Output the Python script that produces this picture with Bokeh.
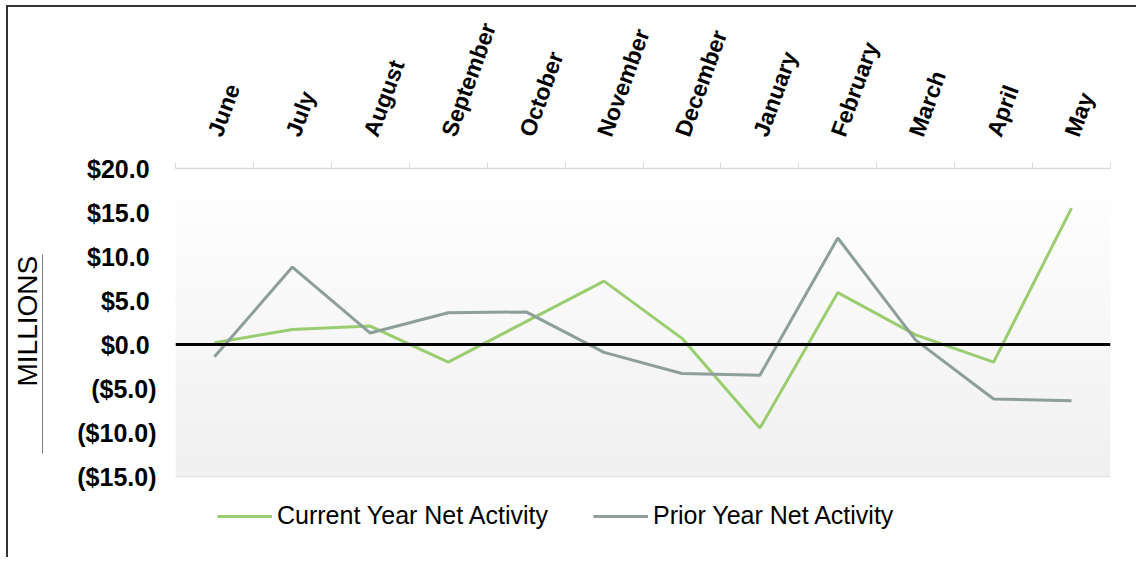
import numpy as np
from bokeh.plotting import figure
from bokeh.models import (FixedTicker, LinearAxis, Span, Legend, LegendItem, Range1d, Title)
from bokeh.embed import file_html
from bokeh.resources import INLINE

months = ["June", "July", "August", "September", "October", "November",
          "December", "January", "February", "March", "April", "May"]
current_year = [0.2, 1.7, 2.1, -2.0, 2.6, 7.2, 0.7, -9.5, 5.9, 1.1, -2.0, 15.5]
prior_year = [-1.4, 8.8, 1.3, 3.6, 3.7, -0.9, -3.3, -3.5, 12.1, 0.5, -6.2, -6.4]
y_ticks = [-15, -10, -5, 0, 5, 10, 15, 20]
y_tick_labels = ["($15.0)", "($10.0)", "($5.0)", "$0.0\u00a0", "$5.0\u00a0",
                 "$10.0\u00a0", "$15.0\u00a0", "$20.0\u00a0"]

GREEN = "#9ACD6F"
GRAY = "#8E9E9B"
GRID = "#D9D9D9"

n = len(months)
xs = list(range(n))
ymin, ymax = y_ticks[0], y_ticks[-1]

# layout: value area is 308px tall; frame extends below it to hold the legend
VALUE_PX = 308
FRAME_PX = 385
y_low = ymax - FRAME_PX * (ymax - ymin) / VALUE_PX

p = figure(output_backend="svg", toolbar_location=None,
           frame_width=935, frame_height=FRAME_PX,
           x_range=Range1d(-0.5, n - 0.5), y_range=Range1d(y_low, ymax),
           x_axis_location=None, y_axis_location=None,
           min_border_left=167, min_border_right=26,
           min_border_top=161, min_border_bottom=4)
p.outline_line_color = None
p.border_fill_color = "white"
p.background_fill_color = "white"
p.styles = {"border-top": "2px solid #333333", "border-left": "2px solid #333333",
            "margin-left": "6px", "margin-top": "5px"}

# vertical gradient background over the value area
h = 64
grad = np.zeros((h, 1), dtype=np.uint32)
view = grad.view(dtype=np.uint8).reshape((h, 1, 4))
for i in range(h):
    t = i / (h - 1)  # 0 bottom -> 1 top
    c = int(round(240 + 15 * t))
    view[i, 0, 0] = c
    view[i, 0, 1] = c
    view[i, 0, 2] = c
    view[i, 0, 3] = 255
p.image_rgba(image=[grad], x=-0.5, y=ymin, dw=n, dh=ymax - ymin)

# top axis with month labels
top = LinearAxis(ticker=FixedTicker(ticks=xs, minor_ticks=[i - 0.5 for i in range(n + 1)]))
top.major_label_overrides = {i: m for i, m in enumerate(months)}
top.major_label_orientation = np.deg2rad(70)
top.major_label_text_font = "Liberation Sans"
top.major_label_text_font_style = "bold"
top.major_label_text_font_size = "23px"
top.major_label_text_color = "black"
top.major_label_standoff = 27
top.major_tick_line_color = None
top.major_tick_in = 0
top.major_tick_out = 0
top.minor_tick_line_color = GRID
top.minor_tick_line_width = 1
top.minor_tick_in = 0
top.minor_tick_out = 6
top.axis_line_color = GRID
top.axis_line_width = 1.5
p.add_layout(top, "above")

# left axis with value labels
left = LinearAxis(ticker=FixedTicker(ticks=y_ticks, minor_ticks=[]))
left.major_label_overrides = {t: l for t, l in zip(y_ticks, y_tick_labels)}
left.major_label_text_font = "Liberation Sans"
left.major_label_text_font_style = "bold"
left.major_label_text_font_size = "25px"
left.major_label_text_color = "black"
left.major_label_standoff = 19
left.major_tick_line_color = None
left.major_tick_in = 0
left.major_tick_out = 0
left.minor_tick_line_color = None
left.axis_line_color = None
left.axis_label = "\u00a0"
left.axis_label_text_font_size = "1px"
left.axis_label_standoff = 28
p.add_layout(left, "left")

# thin rule beside the unit label
rule = LinearAxis(ticker=FixedTicker(ticks=[], minor_ticks=[]), bounds=(-12.4, 10.2))
rule.major_label_text_font_size = "0px"
rule.major_label_standoff = 0
rule.major_tick_line_color = None
rule.major_tick_in = 0
rule.major_tick_out = 0
rule.minor_tick_line_color = None
rule.axis_line_color = "#7F7F7F"
rule.axis_line_width = 1
p.add_layout(rule, "left")

unit = Title(text="MILLIONS", align="left", offset=167, standoff=0,
             text_font="Liberation Sans", text_font_style="normal",
             text_font_size="28px", text_color="black")
p.add_layout(unit, "left")

p.xgrid.visible = False
p.ygrid.ticker = FixedTicker(ticks=y_ticks)
p.ygrid.grid_line_color = GRID
p.ygrid.grid_line_width = 1.5

p.add_layout(Span(location=0, dimension="width", line_color="black", line_width=3))

r1 = p.line(xs, current_year, line_color=GREEN, line_width=3)
r2 = p.line(xs, prior_year, line_color=GRAY, line_width=3)

legend = Legend(items=[LegendItem(label="Current Year Net Activity", renderers=[r1]),
                       LegendItem(label="Prior Year Net Activity", renderers=[r2])],
                orientation="horizontal", location=(42, 23),
                padding=0, margin=0, spacing=45, label_standoff=5,
                glyph_width=55, glyph_height=26, label_height=26,
                background_fill_alpha=0, border_line_color=None,
                label_text_font="Liberation Sans",
                label_text_font_size="25px", label_text_color="black")
p.add_layout(legend, "center")

open("out.html", "w").write(file_html(p, INLINE))
